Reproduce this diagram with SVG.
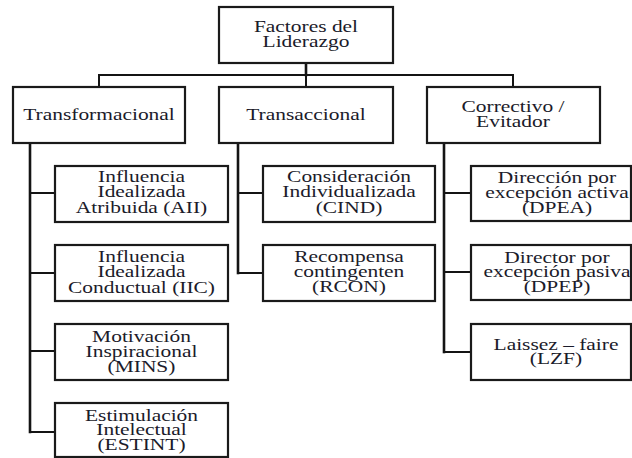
<svg xmlns="http://www.w3.org/2000/svg" width="632" height="458" viewBox="0 0 632 458">
  <style>
    .box { fill: #ffffff; stroke: #1a1a1a; stroke-width: 2.2; }
    .wire { fill: none; stroke: #141414; stroke-width: 2; stroke-linecap: square; }
    .spine { fill: none; stroke: #141414; stroke-width: 2.6; stroke-linecap: square; }
    .lbl { font-family: 'Liberation Serif', 'DejaVu Serif', serif; font-size: 16px; fill: #1b1b2a; text-anchor: middle; }
  </style>

  <!-- connectors -->
  <g id="connectors">
    <path class="spine" d="M306 63 V75"/>
    <path class="wire" d="M99 87 V75 H513 V87 M306 75 V87"/>
    <path class="spine" d="M30 144 V432"/>
    <path class="wire" d="M30 193 H55 M30 273 H55 M30 351 H55 M30 432 H55"/>
    <path class="spine" d="M238 144 V273"/>
    <path class="wire" d="M238 193 H263 M238 273 H263"/>
    <path class="spine" d="M444 144 V352"/>
    <path class="wire" d="M444 193 H471 M444 272 H471 M444 352 H471"/>
  </g>

  <g font-family="Liberation Serif, DejaVu Serif, serif">
  <!-- root -->
  <g id="factores">
    <rect class="box" x="219" y="7" width="174" height="56"/>
    <text class="lbl" transform="matrix(1.34 0 0 1 306 32)"><tspan x="0">Factores del</tspan><tspan x="0" dy="15">Liderazgo</tspan></text>
  </g>

  <!-- level 2 -->
  <g id="transformacional">
    <rect class="box" x="13" y="87" width="172" height="56"/>
    <text class="lbl" transform="matrix(1.34 0 0 1 99 120)">Transformacional</text>
  </g>
  <g id="transaccional">
    <rect class="box" x="219" y="87" width="174" height="56"/>
    <text class="lbl" transform="matrix(1.34 0 0 1 306 120)">Transaccional</text>
  </g>
  <g id="correctivo">
    <rect class="box" x="427" y="87" width="173" height="56"/>
    <text class="lbl" transform="matrix(1.34 0 0 1 513 112)"><tspan x="0">Correctivo /</tspan><tspan x="0" dy="15">Evitador</tspan></text>
  </g>

  <!-- transformacional children -->
  <g id="aii">
    <rect class="box" x="55" y="166" width="173" height="56"/>
    <text class="lbl" transform="matrix(1.34 0 0 1 141.5 182)"><tspan x="0">Influencia</tspan><tspan x="0" dy="15.5">Idealizada</tspan><tspan x="0" dy="15.5">Atribuida (AII)</tspan></text>
  </g>
  <g id="iic">
    <rect class="box" x="55" y="245" width="173" height="56"/>
    <text class="lbl" transform="matrix(1.34 0 0 1 141.5 262)"><tspan x="0">Influencia</tspan><tspan x="0" dy="15.5">Idealizada</tspan><tspan x="0" dy="15.5">Conductual (IIC)</tspan></text>
  </g>
  <g id="mins">
    <rect class="box" x="55" y="324" width="173" height="56"/>
    <text class="lbl" transform="matrix(1.34 0 0 1 141.5 342)"><tspan x="0">Motivación</tspan><tspan x="0" dy="15">Inspiracional</tspan><tspan x="0" dy="15">(MINS)</tspan></text>
  </g>
  <g id="estint">
    <rect class="box" x="55" y="403" width="173" height="54"/>
    <text class="lbl" transform="matrix(1.34 0 0 1 141.5 421)"><tspan x="0">Estimulación</tspan><tspan x="0" dy="14.5">Intelectual</tspan><tspan x="0" dy="14.5">(ESTINT)</tspan></text>
  </g>

  <!-- transaccional children -->
  <g id="cind">
    <rect class="box" x="263" y="166" width="172" height="56"/>
    <text class="lbl" transform="matrix(1.34 0 0 1 349 182)"><tspan x="0">Consideración</tspan><tspan x="0" dy="15.5">Individualizada</tspan><tspan x="0" dy="15.5">(CIND)</tspan></text>
  </g>
  <g id="rcon">
    <rect class="box" x="263" y="245" width="172" height="56"/>
    <text class="lbl" transform="matrix(1.34 0 0 1 349 262)"><tspan x="0">Recompensa</tspan><tspan x="0" dy="15">contingenten</tspan><tspan x="0" dy="15">(RCON)</tspan></text>
  </g>

  <!-- correctivo / evitador children -->
  <g id="dpea">
    <rect class="box" x="471" y="166" width="160" height="55"/>
    <text class="lbl" transform="matrix(1.34 0 0 1 557 183)"><tspan x="0">Dirección por</tspan><tspan x="0" dy="15">excepción activa</tspan><tspan x="0" dy="15">(DPEA)</tspan></text>
  </g>
  <g id="dpep">
    <rect class="box" x="471" y="245" width="160" height="55"/>
    <text class="lbl" transform="matrix(1.34 0 0 1 557 263)"><tspan x="0">Director por</tspan><tspan x="0" dy="14.5">excepción pasiva</tspan><tspan x="0" dy="14.5">(DPEP)</tspan></text>
  </g>
  <g id="lzf">
    <rect class="box" x="471" y="324" width="160" height="56"/>
    <text class="lbl" transform="matrix(1.34 0 0 1 556 350)"><tspan x="0">Laissez – faire</tspan><tspan x="0" dy="14.5">(LZF)</tspan></text>
  </g>
  </g>
</svg>
